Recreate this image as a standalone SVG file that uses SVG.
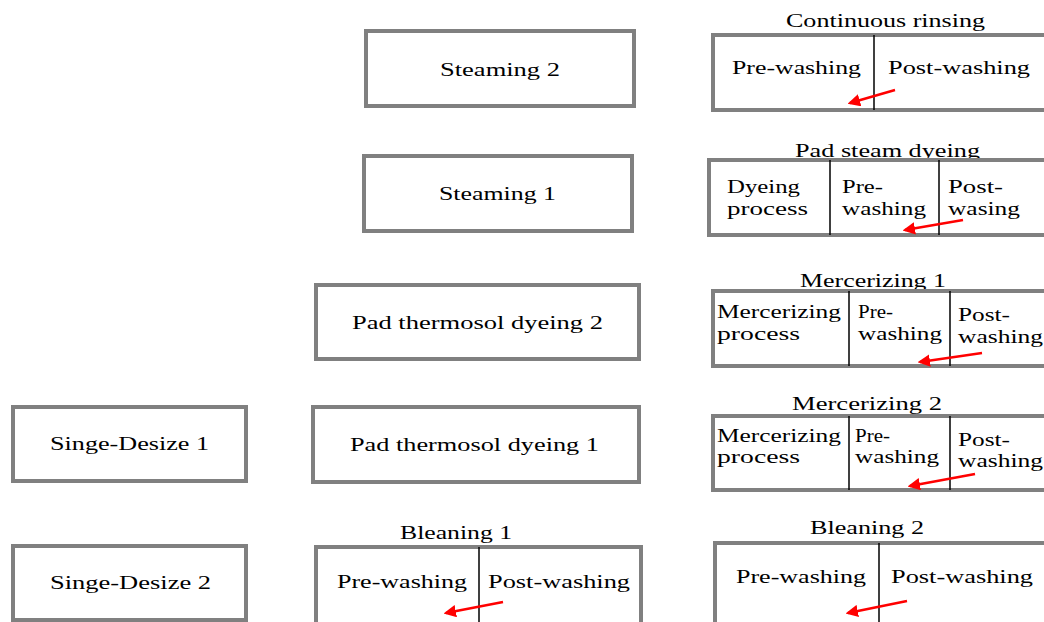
<svg xmlns="http://www.w3.org/2000/svg" width="1044" height="622" viewBox="0 0 1044 622">
<style>
.box{fill:#fff;stroke:#808080;stroke-width:4}
.div{stroke:#000;stroke-width:1.5}
text{font-family:"Liberation Serif","Times New Roman",serif;font-size:19.5px;fill:#000}
.arr{stroke:#ff0000;stroke-width:2.5;fill:none;marker-end:url(#ah)}
</style>
<defs>
<marker id="ah" viewBox="0 0 10 10" refX="8" refY="5" markerWidth="5" markerHeight="5" orient="auto" markerUnits="strokeWidth">
<path d="M0,0 L10,5 L0,10 z" fill="#ff0000"/>
</marker>
</defs>
<rect width="1044" height="622" fill="#fff"/>

<g id="steaming2">
<rect class="box" x="366" y="31" width="268" height="75"/>
<text x="440" y="76" textLength="120" lengthAdjust="spacingAndGlyphs">Steaming 2</text>
</g>
<g id="steaming1">
<rect class="box" x="364" y="156" width="268" height="75"/>
<text x="439" y="200" textLength="117" lengthAdjust="spacingAndGlyphs">Steaming 1</text>
</g>
<g id="padthermo2">
<rect class="box" x="316" y="285" width="323" height="74"/>
<text x="352" y="329" textLength="251" lengthAdjust="spacingAndGlyphs">Pad thermosol dyeing 2</text>
</g>
<g id="padthermo1">
<rect class="box" x="313" y="407" width="326" height="75"/>
<text x="350" y="451" textLength="249" lengthAdjust="spacingAndGlyphs">Pad thermosol dyeing 1</text>
</g>
<g id="singe1">
<rect class="box" x="13" y="407" width="233" height="74"/>
<text x="50" y="450" textLength="159" lengthAdjust="spacingAndGlyphs">Singe-Desize  1</text>
</g>
<g id="singe2">
<rect class="box" x="13" y="546" width="233" height="74"/>
<text x="50" y="589" textLength="161" lengthAdjust="spacingAndGlyphs">Singe-Desize  2</text>
</g>

<g id="bleaning1">
<text x="400" y="539" textLength="112" lengthAdjust="spacingAndGlyphs">Bleaning  1</text>
<rect class="box" x="316" y="547" width="325" height="80"/>
<line class="div" x1="479" y1="547" x2="479" y2="622"/>
<text x="337" y="588" textLength="130" lengthAdjust="spacingAndGlyphs">Pre-washing</text>
<text x="488" y="588" textLength="142" lengthAdjust="spacingAndGlyphs">Post-washing</text>
</g>

<g id="contrinse">
<text x="786" y="27" textLength="199" lengthAdjust="spacingAndGlyphs">Continuous rinsing</text>
<rect class="box" x="713" y="35" width="340" height="75"/>
<line class="div" x1="874" y1="35" x2="874" y2="110"/>
<text x="732" y="74" textLength="129" lengthAdjust="spacingAndGlyphs">Pre-washing</text>
<text x="888" y="74" textLength="142" lengthAdjust="spacingAndGlyphs">Post-washing</text>
</g>

<g id="padsteam">
<text x="795" y="157" textLength="185" lengthAdjust="spacingAndGlyphs">Pad steam dyeing</text>
<rect class="box" x="709" y="160" width="344" height="75"/>
<line class="div" x1="830" y1="160" x2="830" y2="235"/>
<line class="div" x1="939" y1="160" x2="939" y2="235"/>
<text x="727" y="193" textLength="73" lengthAdjust="spacingAndGlyphs">Dyeing</text>
<text x="727" y="215" textLength="81" lengthAdjust="spacingAndGlyphs">process</text>
<text x="842" y="193" textLength="41" lengthAdjust="spacingAndGlyphs">Pre-</text>
<text x="842" y="215" textLength="84" lengthAdjust="spacingAndGlyphs">washing</text>
<text x="948" y="193" textLength="55" lengthAdjust="spacingAndGlyphs">Post-</text>
<text x="948" y="215" textLength="72" lengthAdjust="spacingAndGlyphs">wasing</text>
</g>

<g id="merc1">
<text x="800" y="287" textLength="146" lengthAdjust="spacingAndGlyphs">Mercerizing  1</text>
<rect class="box" x="713" y="291" width="340" height="75"/>
<line class="div" x1="849" y1="291" x2="849" y2="366"/>
<line class="div" x1="950" y1="291" x2="950" y2="366"/>
<text x="717" y="318" textLength="124" lengthAdjust="spacingAndGlyphs">Mercerizing</text>
<text x="717" y="340" textLength="83" lengthAdjust="spacingAndGlyphs">process</text>
<text x="858" y="318" textLength="35" lengthAdjust="spacingAndGlyphs">Pre-</text>
<text x="858" y="340" textLength="84" lengthAdjust="spacingAndGlyphs">washing</text>
<text x="958" y="321" textLength="52" lengthAdjust="spacingAndGlyphs">Post-</text>
<text x="958" y="343" textLength="85" lengthAdjust="spacingAndGlyphs">washing</text>
</g>

<g id="merc2">
<text x="792" y="410" textLength="150" lengthAdjust="spacingAndGlyphs">Mercerizing  2</text>
<rect class="box" x="713" y="416" width="340" height="74"/>
<line class="div" x1="849" y1="416" x2="849" y2="490"/>
<line class="div" x1="950" y1="416" x2="950" y2="490"/>
<text x="717" y="442" textLength="124" lengthAdjust="spacingAndGlyphs">Mercerizing</text>
<text x="717" y="463" textLength="83" lengthAdjust="spacingAndGlyphs">process</text>
<text x="855" y="442" textLength="35" lengthAdjust="spacingAndGlyphs">Pre-</text>
<text x="855" y="463" textLength="84" lengthAdjust="spacingAndGlyphs">washing</text>
<text x="958" y="446" textLength="52" lengthAdjust="spacingAndGlyphs">Post-</text>
<text x="958" y="467" textLength="85" lengthAdjust="spacingAndGlyphs">washing</text>
</g>

<g id="bleaning2">
<text x="810" y="534" textLength="114" lengthAdjust="spacingAndGlyphs">Bleaning  2</text>
<rect class="box" x="715" y="543" width="340" height="85"/>
<line class="div" x1="879" y1="543" x2="879" y2="622"/>
<text x="736" y="583" textLength="130" lengthAdjust="spacingAndGlyphs">Pre-washing</text>
<text x="891" y="583" textLength="142" lengthAdjust="spacingAndGlyphs">Post-washing</text>
</g>

<g id="connectors">
<line class="arr" x1="895" y1="90" x2="850" y2="103"/>
<line class="arr" x1="963" y1="220" x2="905" y2="230"/>
<line class="arr" x1="982" y1="353" x2="920" y2="362"/>
<line class="arr" x1="975" y1="474" x2="910" y2="486"/>
<line class="arr" x1="907" y1="601" x2="848" y2="613"/>
<line class="arr" x1="503" y1="602" x2="446" y2="613"/>
</g>
</svg>
